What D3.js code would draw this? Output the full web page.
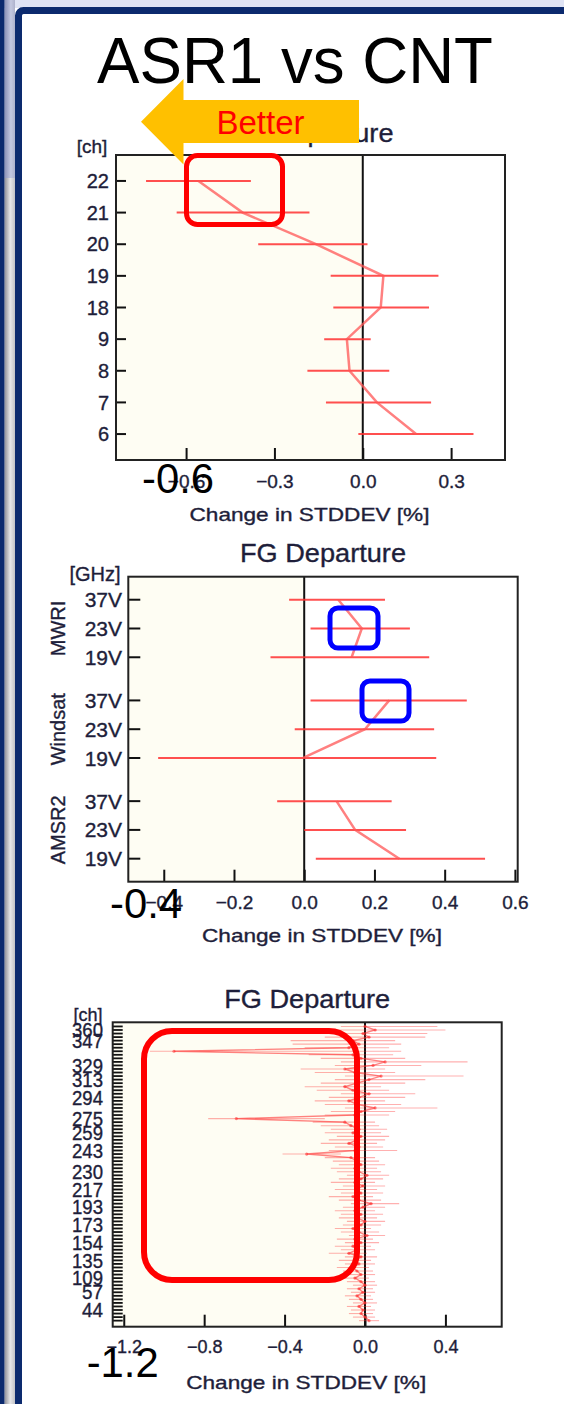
<!DOCTYPE html>
<html>
<head>
<meta charset="utf-8">
<script src="https://cdn.jsdelivr.net/npm/d3@7"></script>
<style>
  html, body { margin: 0; padding: 0; background: #ffffff; }
  svg { display: block; }
  text { font-family: "Liberation Sans", Arial, Helvetica, sans-serif; }
  .lab { stroke: #1e1e3a; stroke-width: 0.35; }
</style>
</head>
<body>
<svg id="chart" width="564" height="1404"></svg>
<script>
// ---------- Panel 1: channel departures (ch 22 .. 6) ----------
const topChannels = ["22", "21", "20", "19", "18", "9", "8", "7", "6"];
const topMean = [-0.558, -0.408, -0.159, 0.070, 0.061, -0.054, -0.045, 0.048, 0.181];
const topLo   = [-0.736, -0.632, -0.355, -0.109, -0.100, -0.131, -0.188, -0.125, -0.015];
const topHi   = [-0.380, -0.181, 0.016, 0.257, 0.225, 0.027, 0.090, 0.232, 0.376];
const topTicks = [-0.6, -0.3, 0.0, 0.3];

// ---------- Panel 2: imager groups ----------
const imgGroups = ["MWRI", "Windsat", "AMSR2"];
const imgBands = ["37V", "23V", "19V"];
const imgMean = [0.097, 0.164, 0.135, 0.242, 0.173, -0.003, 0.092, 0.145, 0.271];
const imgLo   = [-0.043, 0.018, -0.096, 0.018, -0.027, -0.416, -0.077, 0.000, 0.033];
const imgHi   = [0.230, 0.301, 0.356, 0.463, 0.370, 0.376, 0.249, 0.290, 0.515];
const imgTicks = [-0.4, -0.2, 0.0, 0.2, 0.4, 0.6];

// ---------- Panel 3: hyperspectral channels ----------
const hsChannels = [32, 38, 42, 44, 46, 49, 51, 55, 57, 65, 79, 95, 109, 113, 116, 122, 128, 135,
  138, 141, 144, 148, 154, 157, 161, 164, 167, 173, 177, 180, 185, 189, 193, 199, 203, 207, 212,
  217, 219, 222, 224, 226, 230, 232, 234, 236, 239, 241, 243, 246, 249, 252, 254, 259, 262, 266,
  270, 275, 279, 282, 285, 288, 291, 294, 298, 301, 304, 308, 313, 316, 320, 325, 329, 331, 333,
  335, 338, 341, 344, 347, 351, 356, 360, 366];
const hsMean = [0.02, 0.00, -0.02, -0.01, -0.03, 0.00, -0.02, -0.04, -0.01, -0.03, 0.00, -0.02,
  -0.05, -0.02, -0.04, -0.06, -0.03, -0.05, -0.02, -0.08, -0.04, -0.06, -0.02, -0.05, 0.01, -0.03,
  -0.06, -0.02, 0.00, -0.04, -0.02, -0.05, -0.01, 0.03, -0.03, -0.06, -0.02, -0.04, -0.01, -0.05,
  -0.02, 0.01, -0.03, -0.05, -0.02, -0.04, -0.07, -0.29, -0.05, -0.03, -0.08, -0.04, -0.02, -0.06,
  -0.03, -0.07, -0.10, -0.64, -0.05, -0.02, 0.05, -0.04, -0.08, -0.03, 0.02, -0.06, -0.10, -0.04,
  0.02, 0.08, -0.05, -0.10, 0.04, 0.10, -0.02, -0.06, -0.95, -0.08, -0.03, -0.06, 0.02, -0.01,
  0.05, 0.00];
const hsLo = [-0.03, -0.06, -0.08, -0.07, -0.09, -0.06, -0.08, -0.10, -0.07, -0.09, -0.06, -0.09,
  -0.12, -0.09, -0.11, -0.14, -0.10, -0.13, -0.10, -0.18, -0.12, -0.15, -0.10, -0.14, -0.08, -0.12,
  -0.15, -0.11, -0.09, -0.13, -0.12, -0.15, -0.11, -0.07, -0.13, -0.18, -0.12, -0.15, -0.11, -0.17,
  -0.13, -0.09, -0.14, -0.17, -0.13, -0.16, -0.20, -0.41, -0.18, -0.15, -0.22, -0.18, -0.14, -0.20,
  -0.17, -0.22, -0.26, -0.78, -0.20, -0.17, -0.10, -0.20, -0.25, -0.18, -0.12, -0.24, -0.30, -0.22,
  -0.15, -0.10, -0.25, -0.32, -0.15, -0.12, -0.22, -0.28, -1.07, -0.30, -0.36, -0.37, -0.20, -0.18,
  -0.14, -0.12];
const hsHi = [0.07, 0.05, 0.04, 0.05, 0.03, 0.06, 0.04, 0.03, 0.05, 0.04, 0.06, 0.05, 0.02, 0.05,
  0.04, 0.02, 0.05, 0.03, 0.06, 0.01, 0.05, 0.03, 0.07, 0.04, 0.10, 0.07, 0.03, 0.08, 0.10, 0.06,
  0.09, 0.05, 0.10, 0.17, 0.08, 0.04, 0.09, 0.06, 0.10, 0.05, 0.09, 0.12, 0.08, 0.06, 0.10, 0.07,
  0.05, -0.12, 0.16, 0.09, 0.06, 0.10, 0.12, 0.08, 0.11, 0.07, 0.05, -0.20, 0.12, 0.15, 0.36, 0.18,
  0.10, 0.20, 0.25, 0.12, 0.08, 0.20, 0.30, 0.49, 0.15, 0.10, 0.28, 0.51, 0.20, 0.14, 0.18, 0.12,
  0.18, 0.15, 0.30, 0.31, 0.40, 0.36];
const hsLabels = [44, 57, 109, 135, 154, 173, 193, 217, 230, 243, 259, 275, 294, 313, 329, 347, 360];
const hsTicks = [-1.2, -0.8, -0.4, 0.0, 0.4];

const svg = d3.select("#chart");
const NAVY = "#0c2a6e";
const RED = "#ff3030";
const INK = "#1e1e3a";

// ---------- slide chrome ----------
const defs = svg.append("defs");
const g1 = defs.append("linearGradient").attr("id", "stripBlue").attr("x1", 0).attr("x2", 1);
g1.append("stop").attr("offset", 0).attr("stop-color", "#8a90b6");
g1.append("stop").attr("offset", 0.6).attr("stop-color", "#c4c8e0");
g1.append("stop").attr("offset", 1).attr("stop-color", "#aeb2cc");
const g2 = defs.append("linearGradient").attr("id", "stripGrey").attr("x1", 0).attr("x2", 1);
g2.append("stop").attr("offset", 0).attr("stop-color", "#8e8e96");
g2.append("stop").attr("offset", 0.55).attr("stop-color", "#e6e6e8");
g2.append("stop").attr("offset", 1).attr("stop-color", "#c2c2c6");

svg.append("rect").attr("width", 564).attr("height", 1404).attr("fill", "#ffffff");
svg.append("rect").attr("x", 0).attr("y", 0).attr("width", 564).attr("height", 8).attr("fill", "#dfe3f4");
svg.append("rect").attr("x", 4.5).attr("y", 0).attr("width", 10.5).attr("height", 178).attr("fill", "url(#stripBlue)");
svg.append("rect").attr("x", 4.5).attr("y", 178).attr("width", 10.5).attr("height", 1226).attr("fill", "url(#stripGrey)");
svg.append("rect").attr("x", 0).attr("y", 0).attr("width", 4.5).attr("height", 1404).attr("fill", NAVY);
svg.append("rect").attr("x", 18.5).attr("y", 10.5).attr("width", 700).attr("height", 1600)
  .attr("rx", 5).attr("fill", "#ffffff").attr("stroke", NAVY).attr("stroke-width", 7);

// ---------- title ----------
svg.append("text").attr("x", 295).attr("y", 83).attr("text-anchor", "middle")
  .attr("font-size", 65).attr("fill", "#000").attr("textLength", 396)
  .attr("lengthAdjust", "spacingAndGlyphs").text("ASR1 vs CNT");

// ---------- shared panel drawing ----------
function panel(opt) {
  const g = svg.append("g");
  const [x0, x1] = opt.x.range();
  const yTop = opt.yTop, yBot = opt.yBot;
  // shaded "better" side
  g.append("rect").attr("x", x0).attr("y", yTop).attr("width", opt.x(0) - x0)
    .attr("height", yBot - yTop).attr("fill", "#fefdf3");
  // x axis ticks (inward) and labels
  const xAxis = d3.axisBottom(opt.x).tickValues(opt.xTicks).tickSizeInner(-opt.tickLen)
    .tickSizeOuter(0).tickPadding(opt.tickPad)
    .tickFormat(d => (d < 0 ? "\u2212" : "") + Math.abs(d).toFixed(1));
  const ax = g.append("g").attr("transform", `translate(0,${yBot})`).call(xAxis);
  ax.select(".domain").remove();
  ax.selectAll("line").attr("stroke", "#111").attr("stroke-width", 2);
  ax.selectAll("text").attr("font-size", opt.tickFont).attr("fill", INK).attr("class", "lab")
    .style("font-family", '"Liberation Sans", Arial, sans-serif');
  // y ticks (inward)
  g.selectAll(".ytick").data(opt.yTickPos).join("line")
    .attr("x1", x0).attr("x2", x0 + opt.yTickLen)
    .attr("y1", d => d).attr("y2", d => d)
    .attr("stroke", "#111").attr("stroke-width", opt.yTickWidth);
  // zero line
  g.append("line").attr("x1", opt.x(0)).attr("x2", opt.x(0)).attr("y1", yTop).attr("y2", yBot)
    .attr("stroke", "#111").attr("stroke-width", 2);
  // frame
  g.append("rect").attr("x", x0).attr("y", yTop).attr("width", x1 - x0).attr("height", yBot - yTop)
    .attr("fill", "none").attr("stroke", "#222").attr("stroke-width", 2);
  // axis title and panel title
  g.append("text").attr("class", "lab").attr("x", (x0 + x1) / 2 - 1).attr("y", opt.xTitleY).attr("text-anchor", "middle")
    .attr("font-size", 19).attr("fill", INK).attr("textLength", 240).attr("lengthAdjust", "spacingAndGlyphs")
    .text("Change in STDDEV [%]");
  g.append("text").attr("class", "lab").attr("x", (x0 + x1) / 2).attr("y", opt.titleY).attr("text-anchor", "middle")
    .attr("font-size", 26).attr("fill", INK).attr("textLength", 166).attr("lengthAdjust", "spacingAndGlyphs")
    .text("FG Departure");
  return g;
}

// ---------- panel 1 ----------
const x1s = d3.scaleLinear().domain([-0.838, 0.483]).range([116, 505]);
const y1s = d3.scaleLinear().domain([-0.82, topChannels.length - 1 + 0.82]).range([155, 460]);
const p1 = panel({ x: x1s, yTop: 155, yBot: 460, xTicks: topTicks, tickLen: 12, tickPad: 15,
  tickFont: 19, yTickPos: topChannels.map((c, i) => y1s(i)), yTickLen: 10, yTickWidth: 2,
  xTitleY: 521, titleY: 142 });
p1.selectAll(".ylab").data(topChannels).join("text").attr("class", "lab")
  .attr("x", 109).attr("y", (d, i) => y1s(i)).attr("dy", "0.36em").attr("text-anchor", "end")
  .attr("font-size", 20).attr("fill", INK).text(d => d);
p1.append("text").attr("class", "lab").attr("x", 92).attr("y", 153).attr("text-anchor", "middle").attr("font-size", 19)
  .attr("fill", INK).text("[ch]");
p1.selectAll(".err").data(topChannels).join("line")
  .attr("x1", (d, i) => x1s(topLo[i])).attr("x2", (d, i) => x1s(topHi[i]))
  .attr("y1", (d, i) => y1s(i)).attr("y2", (d, i) => y1s(i))
  .attr("stroke", RED).attr("stroke-opacity", 0.85).attr("stroke-width", 2);
p1.append("path").datum(topMean)
  .attr("d", d3.line().x(d => x1s(d)).y((d, i) => y1s(i)))
  .attr("fill", "none").attr("stroke", "#ff5555").attr("stroke-opacity", 0.75).attr("stroke-width", 2.5);

// ---------- panel 2 ----------
const x2s = d3.scaleLinear().domain([-0.501, 0.608]).range([128.3, 517.7]);
const slot = (gi, bi) => gi * (imgBands.length + 0.5) + bi;
const y2s = d3.scaleLinear().domain([-0.8, slot(imgGroups.length - 1, imgBands.length - 1) + 0.8]).range([576.7, 881.7]);
const imgRows = [];
imgGroups.forEach((gname, gi) => imgBands.forEach((b, bi) => imgRows.push({ g: gi, band: b, pos: slot(gi, bi) })));
const p2 = panel({ x: x2s, yTop: 576.7, yBot: 881.7, xTicks: imgTicks, tickLen: 12, tickPad: 14,
  tickFont: 19, yTickPos: imgRows.map(r => y2s(r.pos)), yTickLen: 12, yTickWidth: 2,
  xTitleY: 942, titleY: 562 });
p2.selectAll(".ylab").data(imgRows).join("text").attr("class", "lab")
  .attr("x", 122).attr("y", r => y2s(r.pos)).attr("dy", "0.36em").attr("text-anchor", "end")
  .attr("font-size", 21).attr("fill", INK).text(r => r.band);
p2.selectAll(".grp").data(imgGroups).join("text").attr("class", "lab")
  .attr("transform", (d, gi) => `translate(65,${y2s(slot(gi, 1))}) rotate(-90)`)
  .attr("text-anchor", "middle").attr("font-size", 20).attr("fill", INK).text(d => d);
p2.append("text").attr("class", "lab").attr("x", 95).attr("y", 581).attr("text-anchor", "middle").attr("font-size", 20)
  .attr("fill", INK).text("[GHz]");
p2.selectAll(".err").data(imgRows).join("line")
  .attr("x1", (r, i) => x2s(imgLo[i])).attr("x2", (r, i) => x2s(imgHi[i]))
  .attr("y1", r => y2s(r.pos)).attr("y2", r => y2s(r.pos))
  .attr("stroke", RED).attr("stroke-opacity", 0.85).attr("stroke-width", 2);
imgGroups.forEach((gname, gi) => {
  const pts = imgRows.map((r, i) => ({ r, v: imgMean[i] })).filter(p => p.r.g === gi);
  p2.append("path").datum(pts)
    .attr("d", d3.line().x(p => x2s(p.v)).y(p => y2s(p.r.pos)))
    .attr("fill", "none").attr("stroke", "#ff5555").attr("stroke-opacity", 0.75).attr("stroke-width", 2.5);
});

// ---------- panel 3 ----------
const x3s = d3.scaleLinear().domain([-1.255, 0.680]).range([112.7, 501.7]);
const y3s = d3.scaleLinear().domain([-1.71, 84.17]).range([1326.7, 1022.3]);
const p3 = panel({ x: x3s, yTop: 1022.3, yBot: 1326.7, xTicks: hsTicks, tickLen: 12, tickPad: 14,
  tickFont: 18, yTickPos: hsChannels.map((c, i) => y3s(i)), yTickLen: 10, yTickWidth: 1.8,
  xTitleY: 1389, titleY: 1008 });
p3.selectAll(".ylab").data(hsLabels).join("text").attr("class", "lab")
  .attr("x", 103).attr("y", c => y3s(hsChannels.indexOf(c))).attr("dy", "0.36em").attr("text-anchor", "end")
  .attr("font-size", 20).attr("fill", INK)
  .attr("textLength", c => String(c).length === 3 ? 31 : 21).attr("lengthAdjust", "spacingAndGlyphs")
  .text(c => c);
p3.append("text").attr("class", "lab").attr("x", 88).attr("y", 1021).attr("text-anchor", "middle").attr("font-size", 18)
  .attr("fill", INK).text("[ch]");
p3.selectAll(".err").data(hsChannels).join("line")
  .attr("x1", (c, i) => x3s(hsLo[i])).attr("x2", (c, i) => x3s(hsHi[i]))
  .attr("y1", (c, i) => y3s(i)).attr("y2", (c, i) => y3s(i))
  .attr("stroke", RED).attr("stroke-opacity", 0.38).attr("stroke-width", 1.1);
p3.append("path").datum(hsMean)
  .attr("d", d3.line().x(d => x3s(d)).y((d, i) => y3s(i)))
  .attr("fill", "none").attr("stroke", RED).attr("stroke-opacity", 0.6).attr("stroke-width", 1.4);
p3.selectAll(".pt").data(hsMean).join("circle")
  .attr("cx", d => x3s(d)).attr("cy", (d, i) => y3s(i)).attr("r", 1.6)
  .attr("fill", RED).attr("fill-opacity", 0.6);

// ---------- annotations ----------
// "Better" arrow over panel 1
svg.append("polygon")
  .attr("points", [[141, 121.7], [183.5, 79], [183.5, 100], [359, 100], [359, 143], [183.5, 143], [183.5, 164.4]].map(p => p.join(",")).join(" "))
  .attr("fill", "#ffc000");
svg.append("text").attr("x", 260.5).attr("y", 134).attr("text-anchor", "middle")
  .attr("font-size", 33).attr("fill", "#ff0000").text("Better");

// highlight boxes
svg.append("rect").attr("x", 186.5).attr("y", 155.5).attr("width", 96).attr("height", 69).attr("rx", 11)
  .attr("fill", "none").attr("stroke", "#ff0000").attr("stroke-width", 5);
svg.append("rect").attr("x", 330).attr("y", 608).attr("width", 48).attr("height", 40).attr("rx", 8)
  .attr("fill", "none").attr("stroke", "#0000ff").attr("stroke-width", 5);
svg.append("rect").attr("x", 362).attr("y", 681).attr("width", 47).attr("height", 40).attr("rx", 8)
  .attr("fill", "none").attr("stroke", "#0000ff").attr("stroke-width", 5);
svg.append("rect").attr("x", 144).attr("y", 1031).attr("width", 213).attr("height", 249).attr("rx", 28)
  .attr("fill", "none").attr("stroke", "#ff0000").attr("stroke-width", 6);

// enlarged left-limit labels
const bigLabels = [
  { t: "-0.6", x: 142, y: 493 },
  { t: "-0.4", x: 110, y: 918 },
  { t: "-1.2", x: 86.7, y: 1377 }
];
svg.selectAll(".big").data(bigLabels).join("text")
  .attr("x", d => d.x).attr("y", d => d.y).attr("font-size", 43).attr("fill", "#000")
  .attr("textLength", 72).attr("lengthAdjust", "spacingAndGlyphs").text(d => d.t);
</script>
</body>
</html>
